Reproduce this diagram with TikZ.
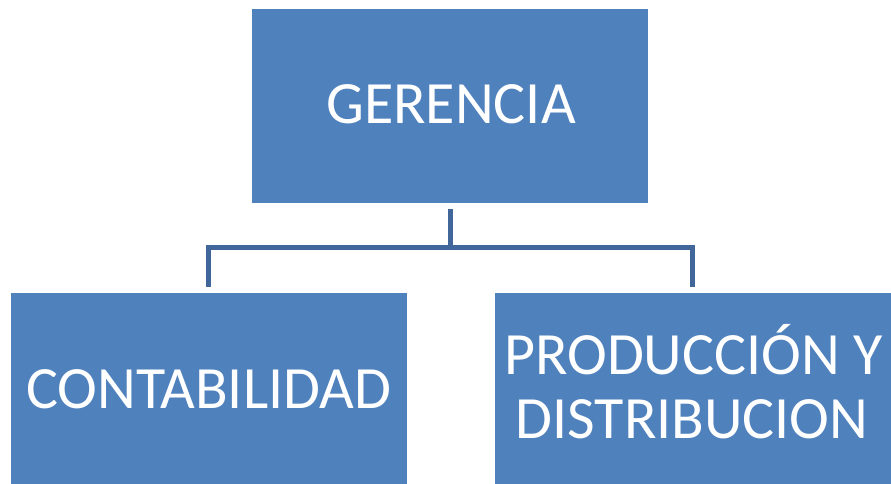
\documentclass[tikz,border=0pt]{standalone}
\usepackage{fontspec}
\setmainfont{Carlito}
\definecolor{boxblue}{HTML}{4F81BD}
\definecolor{linkblue}{HTML}{41679A}
\begin{document}
\begin{tikzpicture}[x=1pt,y=1pt,
  orgbox/.style={fill=boxblue, draw=none, minimum width=396pt, inner sep=0pt, outer sep=0pt},
  lbl/.style={text=white, font=\fontsize{60}{63.5}\selectfont, inner sep=0pt, anchor=base},
  conn/.style={draw=linkblue, line width=5pt}]
\useasboundingbox (0,0) rectangle (891,484);
\fill[white] (0,0) rectangle (891,484);
\node[orgbox, minimum height=194pt] (top) at (450.35,378) {};
\node[orgbox, minimum height=190.7pt] (left) at (208.7,95.35) {};
\node[orgbox, minimum height=190.7pt] (right) at (692.85,95.35) {};
\node[lbl] (tgerencia) at (451,360.7) {GERENCIA};
\node[lbl] (tconta) at (208.5,75.7) {CONTABILIDAD};
\node[lbl] (tprod1) at (693.5,109) {PRODUCCIÓN Y};
\node[lbl] (tprod2) at (692,45.7) {DISTRIBUCION};
\draw[conn] ([yshift=-6pt]top.south) -- ++(0,-39) coordinate (hub) -| ([yshift=6pt]left.north);
\draw[conn] (hub) -| ([yshift=6pt]right.north);
\end{tikzpicture}
\end{document}
